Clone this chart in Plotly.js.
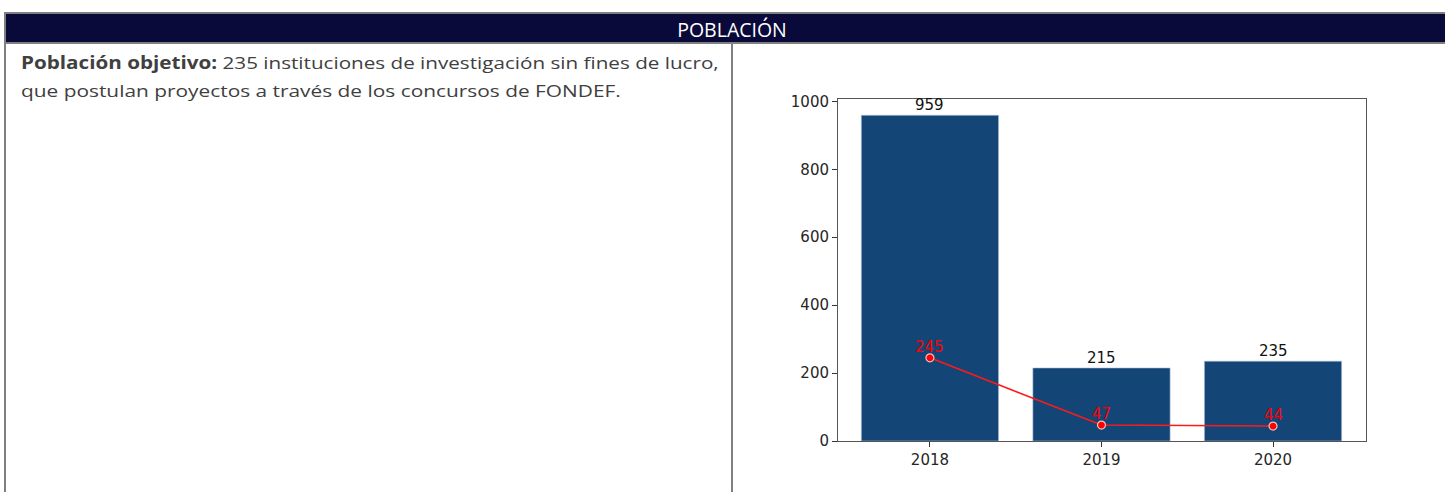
<!DOCTYPE html>
<html>
<head>
<meta charset="utf-8">
<script src="https://cdn.plot.ly/plotly-3.0.1.min.js"></script>
<style>
html,body{margin:0;padding:0;background:#fff;}
#wrap{position:relative;width:1445px;height:492px;overflow:hidden;}
#chart{position:absolute;left:0;top:0;width:1445px;height:492px;}
.txt{position:absolute;white-space:nowrap;font-family:'Open Sans',sans-serif;line-height:1;transform-origin:0 0;}
#hdr{left:0;width:1464px;top:19.5px;text-align:center;font-size:19.5px;color:#fff;}
#l1{left:21px;top:54px;font-size:17px;color:#404040;transform:scaleX(1.214);}
#l2{left:21px;top:82px;font-size:17px;color:#404040;transform:scaleX(1.227);}
</style>
</head>
<body>
<div id="wrap">
<div id="chart"></div>
<div class="txt" id="hdr"></div>
<div class="txt" id="l1"></div>
<div class="txt" id="l2"></div>
</div>
<script>
const years = ["2018", "2019", "2020"];
const barValues = [959, 215, 235];
const lineValues = [245, 47, 44];
const headerText = "POBLACIÓN";
const bodyBold = "Población objetivo:";
const bodyLine1 = " 235 instituciones de investigación sin fines de lucro,";
const bodyLine2 = "que postulan proyectos a través de los concursos de FONDEF.";

document.getElementById('hdr').textContent = headerText;
const b = document.createElement('b'); b.textContent = bodyBold;
const l1 = document.getElementById('l1');
l1.appendChild(b); l1.appendChild(document.createTextNode(bodyLine1));
document.getElementById('l2').textContent = bodyLine2;

const W = 1445, H = 492;
const px = x => x / W;
const py = y => 1 - y / H;

const bars = {
  type: 'bar', x: years, y: barValues,
  marker: {color: '#134577', line: {color: '#a9bfd6', width: 0.6}},
  width: 0.8,
  hoverinfo: 'skip'
};
const line = {
  type: 'scatter', mode: 'lines+markers', x: years, y: lineValues,
  line: {color: '#ff1a1a', width: 1.6},
  marker: {color: '#ff0000', size: 8, line: {color: '#f0c0c0', width: 1.2}},
  cliponaxis: false,
  hoverinfo: 'skip'
};

const barLabels = years.map((yr, i) => ({
  xref: 'x', yref: 'y', x: i, y: barValues[i], text: String(barValues[i]),
  showarrow: false, xanchor: 'center', yanchor: 'bottom', yshift: -1,
  font: {family: 'DejaVu Sans', size: 15, color: '#111'}
}));
const lineLabels = years.map((yr, i) => ({
  xref: 'x', yref: 'y', x: i, y: lineValues[i], text: String(lineValues[i]),
  showarrow: false, xanchor: 'center', yanchor: 'bottom', yshift: 0,
  font: {family: 'DejaVu Sans', size: 15, color: '#ff0000'}
}));

const layout = {
  width: W, height: H,
  margin: {l: 0, r: 0, t: 0, b: 0},
  paper_bgcolor: '#fff', plot_bgcolor: '#fff',
  showlegend: false,
  font: {family: 'DejaVu Sans', color: '#262626'},
  xaxis: {
    domain: [px(838), px(1366)], range: [-0.536, 2.542], type: 'category',
    showgrid: false, zeroline: false, showline: true, mirror: true,
    linecolor: '#555', linewidth: 1, ticks: 'outside', ticklen: 5, tickcolor: '#333',
    tickfont: {family: 'DejaVu Sans', size: 15, color: '#262626'}
  },
  yaxis: {
    domain: [py(441), py(99)], range: [0, 1007],
    tickvals: [0, 200, 400, 600, 800, 1000],
    showgrid: false, zeroline: false, showline: true, mirror: true,
    linecolor: '#555', linewidth: 1, ticks: 'outside', ticklen: 5, tickcolor: '#333',
    tickfont: {family: 'DejaVu Sans', size: 15, color: '#262626'}
  },
  shapes: [
    {type: 'rect', xref: 'paper', yref: 'paper', x0: px(5), x1: px(1450), y0: py(43), y1: py(13),
     fillcolor: '#0a0a3a', line: {color: '#808080', width: 2}, layer: 'below'},
    {type: 'line', xref: 'paper', yref: 'paper', x0: px(5), x1: px(5), y0: py(43), y1: py(495),
     line: {color: '#808080', width: 2}},
    {type: 'line', xref: 'paper', yref: 'paper', x0: px(732), x1: px(732), y0: py(43), y1: py(495),
     line: {color: '#808080', width: 2}}
  ],
  annotations: barLabels.concat(lineLabels)
};

Plotly.newPlot('chart', [bars, line], layout, {displayModeBar: false, staticPlot: true});
</script>
</body>
</html>
